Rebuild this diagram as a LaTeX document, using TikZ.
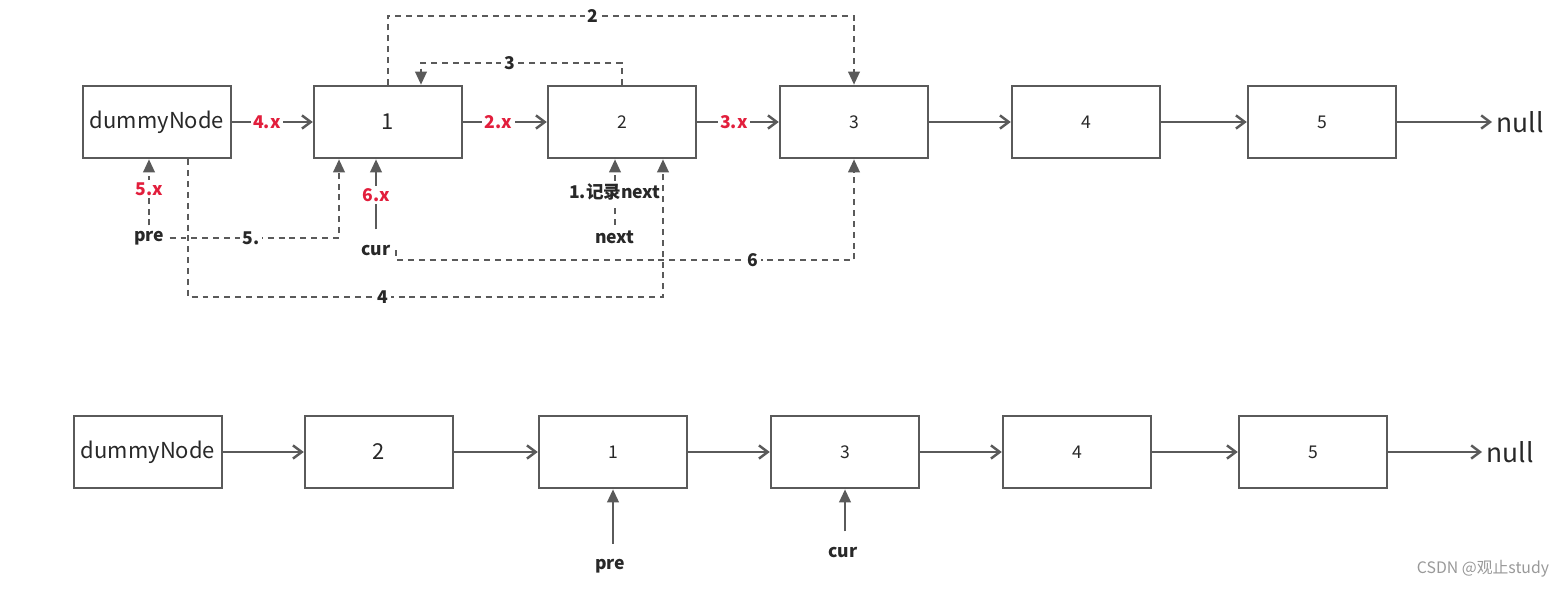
\documentclass[tikz,border=0pt]{standalone}
\usepackage{fontspec}
\setmainfont{Noto Sans CJK SC}
\usetikzlibrary{arrows.meta}
\definecolor{linegray}{RGB}{90,90,90}
\definecolor{labelred}{RGB}{226,30,60}
\definecolor{textdark}{RGB}{40,40,40}

\begin{document}
\begin{tikzpicture}[x=0.02cm,y=-0.02cm,
    box/.style={draw=linegray,line width=1.4pt,minimum width=2.96cm,minimum height=1.44cm,inner sep=0pt,text=textdark},
    big/.style={font=\fontsize{12.5}{15}\selectfont},
    small/.style={font=\fontsize{10}{12}\selectfont},
    link/.style={draw=linegray,line width=1.4pt,-{Straight Barb[length=5pt,width=7.5pt]}},
    dlink/.style={draw=linegray,line width=1.4pt,dash pattern=on 3.4pt off 2.8pt,-{Triangle[length=7.5pt,width=6.5pt]}},
    ptr/.style={draw=linegray,line width=1.5pt,shorten <=5.5pt,-{Triangle[length=7.5pt,width=6.5pt]}},
    redlbl/.style={font=\bfseries\fontsize{10}{12}\selectfont,text=labelred,fill=white,inner sep=1.5pt},
    lbl/.style={font=\bfseries\fontsize{10}{12}\selectfont,text=textdark,fill=white,inner sep=1.5pt},
    tag/.style={font=\bfseries\fontsize{10}{12}\selectfont,text=textdark,inner sep=3pt}]
\useasboundingbox (0,0) rectangle (1567,588);

% before: top row
\node [box,big] (d0) at (157,122) {dummyNode};
\node [box,big] (t1) at (388,122) {1};
\node [box,small] (t2) at (622,122) {2};
\node [box,small] (t3) at (854,122) {3};
\node [box,small] (t4) at (1086,122) {4};
\node [box,small] (t5) at (1322,122) {5};
\node [anchor=west,inner sep=2.5pt,text=textdark,font=\fontsize{15}{17}\selectfont] (tnull) at (1492,122) {null};

\node [tag] (pre) at (149,238) {pre};
\node [tag] (cur) at (376,250) {cur};
\node [tag] (next) at (615,237) {next};

\draw [link] (d0) -- node [redlbl,pos=0.43] {4.x} (t1);
\draw [link] (t1) -- node [redlbl,pos=0.42] {2.x} (t2);
\draw [link] (t2) -- node [redlbl,pos=0.45] {3.x} (t3);
\draw [link] (t3) -- (t4);
\draw [link] (t4) -- (t5);
\draw [link] (t5) -- (tnull);

% steps
\draw [dlink] (next) -- node [lbl] {1.记录next} (t2.south -| next);
\draw [dlink] (t1.north) -- ++(0,-69) -| node [lbl,pos=0.22] {2} (t3.north);
\draw [dlink] (t2.north) -- ++(0,-22) -| node [lbl,pos=0.28] {3} ([xshift=0.66cm]t1.north);
\draw [dlink] ([xshift=0.62cm]d0.south) -- ++(0,138) -| node [lbl,pos=0.205] {4} ([xshift=0.82cm]t2.south);
\draw [dlink] (pre) -- node [redlbl,pos=0.55] {5.x} (d0.south -| pre);
\draw [dlink] (pre.east) -| node [lbl,pos=0.24] {5.} ([xshift=-0.98cm]t1.south);
\draw [ptr] (cur) -- node [redlbl,pos=0.55] {6.x} (t1.south -| cur);
\draw [dlink] (cur.east) -- ++(0,10) -| node [lbl,pos=0.39] {6} (t3.south);

% after: bottom row
\node [box,big] (bd) at (148,452) {dummyNode};
\node [box,big] (b2) at (379,452) {2};
\node [box,small] (b1) at (613,452) {1};
\node [box,small] (b3) at (845,452) {3};
\node [box,small] (b4) at (1077,452) {4};
\node [box,small] (b5) at (1313,452) {5};
\node [anchor=west,inner sep=2.5pt,text=textdark,font=\fontsize{15}{17}\selectfont] (bnull) at (1482,452) {null};

\node [tag] (bpre) at (610,566) {pre};
\node [tag] (bcur) at (843,552) {cur};

\draw [link] (bd) -- (b2);
\draw [link] (b2) -- (b1);
\draw [link] (b1) -- (b3);
\draw [link] (b3) -- (b4);
\draw [link] (b4) -- (b5);
\draw [link] (b5) -- (bnull);
\draw [ptr] (bpre.north -| b1.south) -- (b1.south);
\draw [ptr] (bcur.north -| b3.south) -- (b3.south);

\node [text=black!40,inner sep=0pt,font=\fontsize{9}{11}\selectfont] (mark) at (1483,569) {CSDN @观止study};
\end{tikzpicture}
\end{document}
